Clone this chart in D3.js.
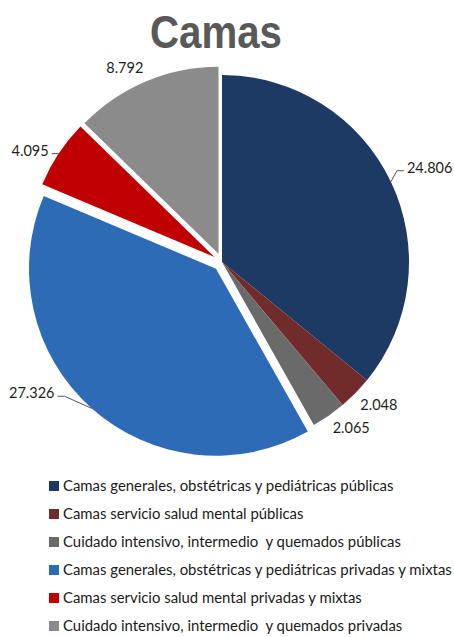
<!DOCTYPE html>
<html>
<head>
<meta charset="utf-8">
<script src="https://cdn.jsdelivr.net/npm/d3@7"></script>
<style>
  body { margin: 0; background: #fff; }
  svg { display: block; }
</style>
</head>
<body>
<div id="chart"></div>
<script>
// data
const categories = [
  "Camas generales, obstétricas y pediátricas públicas",
  "Camas servicio salud mental públicas",
  "Cuidado intensivo, intermedio  y quemados públicas",
  "Camas generales, obstétricas y pediátricas privadas y mixtas",
  "Camas servicio salud mental privadas y mixtas",
  "Cuidado intensivo, intermedio  y quemados privadas"
];
const values = [24806, 2048, 2065, 27326, 4095, 8792];
const colors = ["#1c3a64", "#722b2b", "#6a6a6a", "#2e6bb7", "#c00000", "#8b8b8b"];

// layout
const width = 454, height = 637;
const cx = 222, cy = 262, radius = 187;
const explode = [0, 0, 0, 9, 9, 9];
// label offsets from the outer edge of each slice (Excel "best fit" placement)
const labelNudge = [[16, -14], [5, 12], [4, 12], [-37, -15], [-10, -3], [-21, -14]];
const labelAnchor = ["start", "start", "start", "end", "end", "middle"];
const hasLeader = [true, false, false, true, true, false];

const es = d3.formatLocale({ decimal: ",", thousands: ".", grouping: [3], currency: ["", ""] });
const fmt = es.format(",d");

const svg = d3.select("#chart").append("svg")
  .attr("width", width)
  .attr("height", height);

svg.append("text")
  .attr("x", 216)
  .attr("y", 48)
  .attr("text-anchor", "middle")
  .attr("textLength", 132)
  .attr("lengthAdjust", "spacingAndGlyphs")
  .style("font-family", "'Liberation Sans', Arial, sans-serif")
  .style("font-weight", "bold")
  .style("font-size", "47px")
  .style("fill", "#595959")
  .text("Camas");

const pie = d3.pie().sort(null).value(d => d);
const arcs = pie(values);
const arc = d3.arc().innerRadius(0).outerRadius(radius);

function offsetOf(d, i) {
  const mid = (d.startAngle + d.endAngle) / 2;
  return [Math.sin(mid) * explode[i], -Math.cos(mid) * explode[i]];
}

const g = svg.append("g").attr("transform", `translate(${cx},${cy})`);

g.selectAll("path.slice")
  .data(arcs)
  .enter()
  .append("path")
  .attr("class", "slice")
  .attr("d", arc)
  .attr("transform", (d, i) => {
    const o = offsetOf(d, i);
    return `translate(${o[0]},${o[1]})`;
  })
  .style("fill", (d, i) => colors[i]);

// labels
const labels = arcs.map((d, i) => {
  const mid = (d.startAngle + d.endAngle) / 2;
  const o = offsetOf(d, i);
  const ox = o[0] + Math.sin(mid) * radius;
  const oy = o[1] - Math.cos(mid) * radius;
  return {
    i: i,
    outer: [ox, oy],
    text: [ox + labelNudge[i][0], oy + labelNudge[i][1]],
    value: d.data
  };
});

g.selectAll("polyline.leader")
  .data(labels.filter(l => hasLeader[l.i]))
  .enter()
  .append("polyline")
  .attr("class", "leader")
  .attr("points", l => {
    const side = labelAnchor[l.i] === "start" ? 1 : -1;
    const ex = l.text[0] - side * 3, ey = l.text[1] + 3;
    const bx = ex - side * 7;
    return [[l.outer[0], l.outer[1]], [bx, ey], [ex, ey]].map(p => p.join(",")).join(" ");
  })
  .style("fill", "none")
  .style("stroke", "#555")
  .style("stroke-width", 1);

g.selectAll("text.label")
  .data(labels)
  .enter()
  .append("text")
  .attr("class", "label")
  .attr("x", l => l.text[0])
  .attr("y", l => l.text[1])
  .attr("dy", "0.35em")
  .attr("text-anchor", l => labelAnchor[l.i])
  .style("font-family", "Lato, 'Open Sans', sans-serif")
  .style("font-size", "14.5px")
  .style("fill", "#1e1e1e")
  .text(l => fmt(l.value));

// legend
const legend = svg.append("g").attr("transform", "translate(49,486)");
const rows = legend.selectAll("g.row")
  .data(categories)
  .enter()
  .append("g")
  .attr("class", "row")
  .attr("transform", (d, i) => `translate(0,${i * 28})`);

rows.append("rect")
  .attr("x", 0)
  .attr("y", -5)
  .attr("width", 10)
  .attr("height", 10)
  .style("fill", (d, i) => colors[i]);

rows.append("text")
  .attr("x", 14)
  .attr("y", 0)
  .attr("dy", "0.35em")
  .style("white-space", "pre")
  .style("font-family", "Lato, 'Open Sans', sans-serif")
  .style("font-size", "14.9px")
  .style("fill", "#1a1a1a")
  .text(d => d);
</script>
</body>
</html>
